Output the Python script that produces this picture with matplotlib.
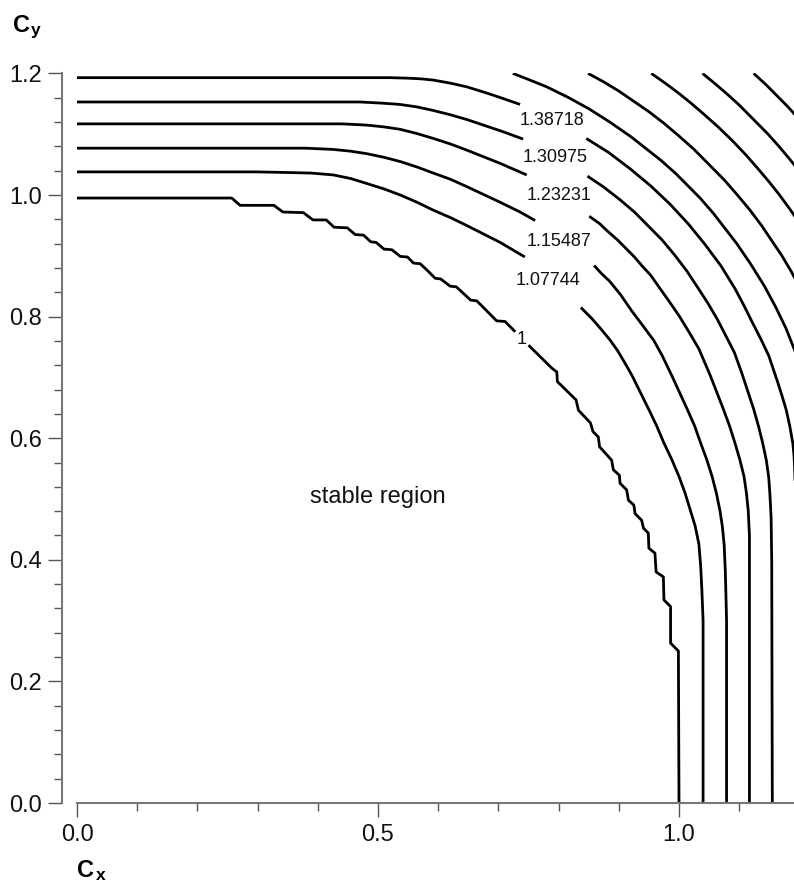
import numpy as np
import matplotlib.pyplot as plt
from matplotlib.ticker import FormatStrFormatter

plt.rcParams['font.family'] = ['Liberation Sans', 'DejaVu Sans']

nan = np.nan

# contour level labels and where they sit
levels = ["1", "1.07744", "1.15487", "1.23231", "1.30975", "1.38718"]
label_x = [0.739, 0.783, 0.800, 0.800, 0.794, 0.789]
label_y = [0.762, 0.860, 0.924, 0.999, 1.062, 1.123]

# level 1 (stability limit), stair-stepped from the computing grid
x_1 = [0, 0.257, 0.271, 0.327, 0.342, 0.376, 0.392, 0.414, 0.427, 0.449, 0.462, 0.476,
       0.488, 0.497, 0.510, 0.523, 0.537, 0.549, 0.559, 0.570, 0.583, 0.595, 0.604, 0.620,
       0.630, 0.654, 0.664, 0.697, 0.711, 0.728, nan,
       0.750, 0.789, 0.797, 0.798, 0.829, 0.833, 0.853, 0.857, 0.866, 0.868, 0.888, 0.891,
       0.901, 0.902, 0.913, 0.916, 0.925, 0.927, 0.938, 0.941, 0.949, 0.950, 0.960, 0.962,
       0.974, 0.975, 0.986, 0.986, 0.999, 1.0]
y_1 = [0.995, 0.995, 0.983, 0.983, 0.972, 0.971, 0.959, 0.959, 0.947, 0.946, 0.935, 0.934,
       0.923, 0.922, 0.911, 0.910, 0.899, 0.898, 0.888, 0.887, 0.875, 0.863, 0.862, 0.850,
       0.849, 0.827, 0.826, 0.793, 0.792, 0.775, nan,
       0.753, 0.715, 0.709, 0.693, 0.663, 0.646, 0.625, 0.611, 0.602, 0.586, 0.564, 0.548,
       0.539, 0.526, 0.515, 0.498, 0.490, 0.476, 0.465, 0.452, 0.444, 0.419, 0.411, 0.380,
       0.372, 0.334, 0.323, 0.263, 0.250, 0.0]

# level 1.07744
x_2 = [0, 0.30, 0.35, 0.39, 0.426, 0.455, 0.481, 0.510, 0.537, 0.565, 0.592, 0.620,
       0.647, 0.675, 0.703, 0.744, nan,
       0.837, 0.855, 0.870, 0.885, 0.898, 0.910, 0.922, 0.936, 0.950, 0.963, 0.975,
       0.988, 1.000, 1.010, 1.019, 1.027, 1.033, 1.036, 1.038, 1.040, 1.040]
y_2 = [1.038, 1.038, 1.037, 1.036, 1.033, 1.027, 1.019, 1.010, 1.000, 0.988, 0.975, 0.963,
       0.950, 0.936, 0.922, 0.898, nan,
       0.815, 0.797, 0.780, 0.762, 0.744, 0.724, 0.703, 0.675, 0.647, 0.620, 0.592,
       0.565, 0.537, 0.510, 0.481, 0.455, 0.426, 0.39, 0.35, 0.30, 0.0]

# level 1.15487
x_3 = [0, 0.38, 0.425, 0.455, 0.481, 0.510, 0.537, 0.565, 0.592, 0.620, 0.647, 0.675,
       0.703, 0.736, 0.761, nan,
       0.859, 0.871, 0.884, 0.903, 0.921, 0.940, 0.958, 0.972, 0.988, 1.001, 1.014, 1.026,
       1.036, 1.046, 1.055, 1.062, 1.068, 1.072, 1.075, 1.077, 1.079, 1.079]
y_3 = [1.077, 1.077, 1.075, 1.072, 1.068, 1.062, 1.055, 1.046, 1.036, 1.026, 1.014, 1.001,
       0.988, 0.972, 0.958, nan,
       0.884, 0.871, 0.859, 0.836, 0.810, 0.785, 0.761, 0.736, 0.703, 0.675, 0.647, 0.620,
       0.592, 0.565, 0.537, 0.510, 0.481, 0.455, 0.425, 0.38, 0.30, 0.0]

# level 1.23231
x_4 = [0, 0.44, 0.481, 0.510, 0.537, 0.565, 0.592, 0.620, 0.647, 0.675, 0.703, 0.747, nan,
       0.851, 0.868, 0.883, 0.898, 0.912, 0.926, 0.939, 0.953, 0.965, 0.983, 1.001, 1.017,
       1.033, 1.052, 1.063, 1.074, 1.084, 1.093, 1.101, 1.108, 1.112, 1.115, 1.117, 1.117]
y_4 = [1.117, 1.117, 1.115, 1.112, 1.108, 1.101, 1.093, 1.084, 1.074, 1.063, 1.052, 1.033, nan,
       0.965, 0.953, 0.939, 0.926, 0.912, 0.898, 0.883, 0.868, 0.851, 0.826, 0.800, 0.774,
       0.747, 0.703, 0.675, 0.647, 0.620, 0.592, 0.565, 0.537, 0.510, 0.481, 0.44, 0.0]

# level 1.30975
x_5 = [0, 0.47, 0.508, 0.536, 0.564, 0.592, 0.620, 0.648, 0.675, 0.708, 0.741, nan,
       0.848, 0.875, 0.901, 0.926, 0.949, 0.972, 0.993, 1.013, 1.031, 1.048, 1.064, 1.078,
       1.092, 1.104, 1.115, 1.124, 1.132, 1.139, 1.145, 1.149, 1.151, 1.153, 1.154, 1.155]
y_5 = [1.153, 1.153, 1.151, 1.149, 1.145, 1.139, 1.132, 1.124, 1.115, 1.104, 1.092, nan,
       1.031, 1.013, 0.993, 0.972, 0.949, 0.926, 0.901, 0.875, 0.848, 0.822, 0.795, 0.768,
       0.741, 0.708, 0.675, 0.648, 0.620, 0.592, 0.564, 0.536, 0.508, 0.47, 0.40, 0.0]

# level 1.38718
x_6 = [0, 0.52, 0.553, 0.572, 0.592, 0.620, 0.647, 0.670, 0.692, 0.736, nan,
       0.846, 0.883, 0.919, 0.953, 0.985, 1.015, 1.043, 1.070, 1.093, 1.108, 1.122, 1.136,
       1.149, 1.164, 1.171, 1.178, 1.184, 1.189, 1.191, 1.192, 1.193, 1.193]
y_6 = [1.193, 1.193, 1.192, 1.191, 1.189, 1.184, 1.178, 1.171, 1.164, 1.149, nan,
       1.093, 1.070, 1.043, 1.015, 0.985, 0.953, 0.919, 0.883, 0.846, 0.818, 0.790, 0.763,
       0.736, 0.692, 0.670, 0.647, 0.620, 0.592, 0.572, 0.553, 0.52, 0.0]

# unlabelled outer levels in the corner
x_7 = [0.724, 0.750, 0.780, 0.815, 0.850, 0.885, 0.920, 0.970, 0.995, 1.015,
       1.035, 1.057, 1.096, 1.120, 1.142, 1.161, 1.178, 1.190, 1.2]
y_7 = [1.2, 1.190, 1.178, 1.161, 1.142, 1.120, 1.096, 1.057, 1.035, 1.015,
       0.995, 0.970, 0.920, 0.885, 0.850, 0.815, 0.780, 0.750, 0.724]

x_8 = [0.849, 0.875, 0.900, 0.925, 0.950, 0.975, 1.000, 1.025, 1.050,
       1.075, 1.097, 1.118, 1.137, 1.154, 1.171, 1.186, 1.2]
y_8 = [1.2, 1.186, 1.171, 1.154, 1.137, 1.118, 1.097, 1.075, 1.050,
       1.025, 1.000, 0.975, 0.950, 0.925, 0.900, 0.875, 0.849]

x_9 = [0.954, 0.977, 1.000, 1.020, 1.040, 1.065, 1.089, 1.112, 1.134, 1.151, 1.167, 1.184, 1.2]
y_9 = [1.2, 1.184, 1.167, 1.151, 1.134, 1.112, 1.089, 1.065, 1.040, 1.020, 1.000, 0.977, 0.954]

x_10 = [1.039, 1.060, 1.080, 1.100, 1.124, 1.148, 1.166, 1.183, 1.2]
y_10 = [1.2, 1.183, 1.166, 1.148, 1.124, 1.100, 1.080, 1.060, 1.039]

x_11 = [1.124, 1.145, 1.163, 1.181, 1.2]
y_11 = [1.2, 1.181, 1.163, 1.145, 1.124]

curves = [(x_1, y_1), (x_2, y_2), (x_3, y_3), (x_4, y_4), (x_5, y_5), (x_6, y_6),
          (x_7, y_7), (x_8, y_8), (x_9, y_9), (x_10, y_10), (x_11, y_11)]

fig = plt.figure(figsize=(7.94, 8.84), dpi=100)
ax = fig.add_axes([77 / 794, 81 / 884, 722.4 / 794, 729.6 / 884])

for cx, cy in curves:
    ax.plot(cx, cy, color='black', lw=2.0, solid_joinstyle='round', solid_capstyle='butt')

for lab, lx, ly in zip(levels, label_x, label_y):
    ax.text(lx, ly, lab, fontsize=13, ha='center', va='center', color='#111111')

ax.text(0.5, 0.503, "stable region", fontsize=17, ha='center', va='center', color='#111111')

ax.set_xlim(0, 1.2)
ax.set_ylim(0, 1.2)

ax.spines['top'].set_visible(False)
ax.spines['right'].set_visible(False)
ax.spines['left'].set_position(('outward', 10.8))
ax.spines['left'].set_bounds(0, 1.2)
ax.spines['bottom'].set_bounds(0, 1.2)
for s in ['left', 'bottom']:
    ax.spines[s].set_color('#777777')
    ax.spines[s].set_linewidth(1.5)

ax.set_xticks([0.0, 0.5, 1.0])
ax.set_xticks(np.arange(0, 1.21, 0.1), minor=True)
ax.set_yticks(np.arange(0, 1.21, 0.2))
ax.set_yticks(np.arange(0, 1.21, 0.04), minor=True)
ax.xaxis.set_major_formatter(FormatStrFormatter('%.1f'))
ax.yaxis.set_major_formatter(FormatStrFormatter('%.1f'))
ax.tick_params(which='major', direction='out', length=10, width=1.0, color='#555555',
               labelsize=17, labelcolor='#111111')
ax.tick_params(which='minor', direction='out', length=5.5, width=1.0, color='#555555')
ax.tick_params(axis='y', which='major', pad=4.3)
ax.tick_params(axis='x', which='major', pad=5)

# axis titles C_y and C_x
fig.text(13 / 794, 1 - 32 / 884, "C", fontsize=17, fontweight='bold', va='baseline')
fig.text(31 / 794, 1 - 35 / 884, "y", fontsize=12.5, fontweight='bold', va='baseline')
fig.text(77 / 794, 1 - 877 / 884, "C", fontsize=17, fontweight='bold', va='baseline')
fig.text(96 / 794, 1 - 880 / 884, "x", fontsize=12.5, fontweight='bold', va='baseline')

fig.savefig("out.png", dpi=100)
